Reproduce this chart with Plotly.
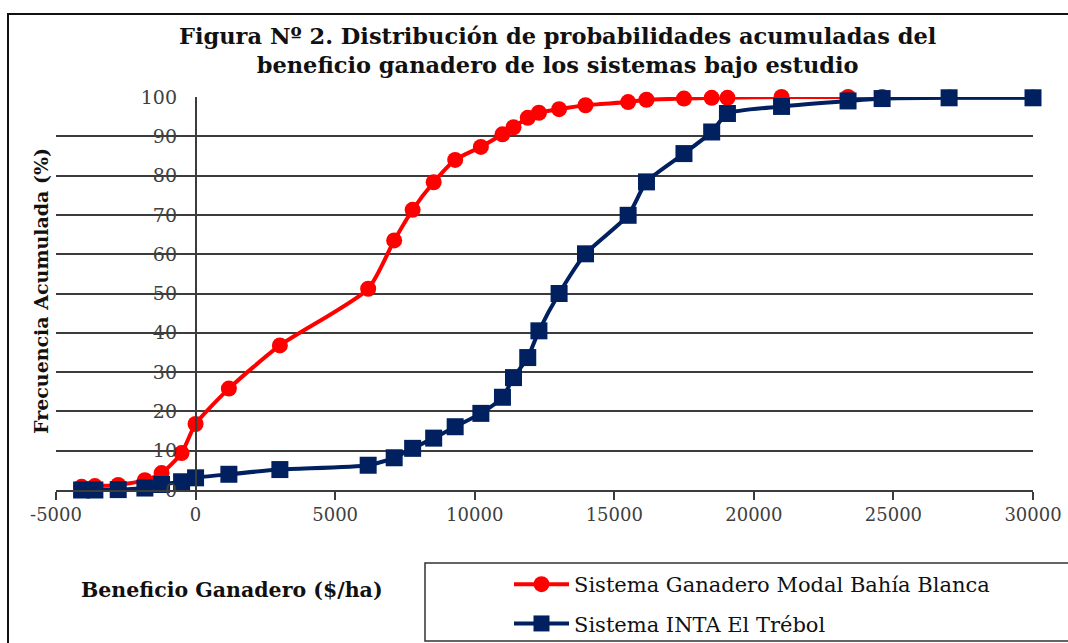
import plotly.graph_objects as go

# Bin upper limits (Beneficio Ganadero, $/ha) shared by both series
beneficio = [-4083, -3607, -2771, -1816, -1218, -501, 0, 1193, 3020, 6183, 7115,
             7776, 8530, 9300, 10220, 10994, 11390, 11900, 12300, 13023, 13969,
             15496, 16153, 17496, 18489, 19054, 20992, 23374, 24595, 26994, 30000]

# Cumulative frequency (%)
modal_bahia_blanca = [0.8, 1.0, 1.3, 2.5, 4.3, 9.4, 16.8, 25.8, 36.8, 51.2, 63.5,
                      71.3, 78.3, 84.0, 87.3, 90.5, 92.3, 94.7, 96.0, 96.9, 97.9,
                      98.7, 99.3, 99.6, 99.8, 99.8, 100.0, 100.0, 100.0, 99.9, 99.9]
inta_el_trebol = [0.0, 0.0, 0.1, 0.5, 1.4, 2.1, 3.1, 4.0, 5.2, 6.3, 8.2,
                  10.6, 13.2, 16.1, 19.5, 23.6, 28.6, 33.7, 40.5, 50.0, 60.1,
                  69.9, 78.4, 85.6, 91.1, 95.8, 97.6, 99.0, 99.6, 99.8, 99.8]

series_names = ["Sistema Ganadero Modal Bahía Blanca", "Sistema INTA El Trébol"]

x_tick_vals = [-5000, 0, 5000, 10000, 15000, 20000, 25000, 30000]
x_tick_text = ["-5000", "0", "5000", "10000", "15000", "20000", "25000", "30000"]
y_tick_vals = [0, 10, 20, 30, 40, 50, 60, 70, 80, 90, 100]
y_tick_text = ["0", "10", "20", "30", "40", "50", "60", "70", "80", "90", "100"]

title_text = ("Figura Nº 2. Distribución de probabilidades acumuladas del<br>"
              "beneficio ganadero de los sistemas bajo estudio")
x_title = "Beneficio Ganadero ($/ha)"
y_title = "Frecuencia Acumulada (%)"

RED = "#FF0000"
NAVY = "#002060"
GRID = "#3c3c3c"
SERIF = "DejaVu Serif, serif"

W, H = 1068, 643
L, R, T, B = 56, 35, 97, 153
PW, PH = W - L - R, H - T - B


def px_x(p):
    return (p - L) / PW


def px_y(p):
    return (H - B - p) / PH


fig = go.Figure()
fig.add_trace(go.Scatter(
    x=beneficio, y=modal_bahia_blanca, name=series_names[0],
    mode="lines+markers", line=dict(color=RED, width=4, shape="spline", smoothing=0.6),
    marker=dict(symbol="circle", size=16, color=RED),
    cliponaxis=False, legendgroup="a"))
fig.add_trace(go.Scatter(
    x=beneficio, y=inta_el_trebol, name=series_names[1],
    mode="lines+markers", line=dict(color=NAVY, width=4, shape="spline", smoothing=0.6),
    marker=dict(symbol="square", size=17, color=NAVY),
    cliponaxis=False, legendgroup="b"))

fig.update_layout(
    width=W, height=H, autosize=False,
    margin=dict(l=L, r=R, t=T, b=B, autoexpand=False),
    paper_bgcolor="white", plot_bgcolor="white",
    font=dict(family=SERIF, color="#222222"),
    xaxis=dict(range=[-5000, 30000], tickvals=x_tick_vals, ticktext=x_tick_text,
               showgrid=False, zeroline=False, showline=True, linecolor=GRID,
               linewidth=1.5, ticks="outside", ticklen=8, tickwidth=1.5,
               tickcolor=GRID, automargin=False,
               tickfont=dict(family=SERIF, size=18, color="#404040")),
    yaxis=dict(range=[0, 100], tickvals=y_tick_vals, ticktext=y_tick_text,
               showgrid=True, gridcolor=GRID, gridwidth=1.5, zeroline=False,
               showline=True, linecolor=GRID, linewidth=1.5, ticks="",
               anchor="free", position=5000 / 35000, ticklabelstandoff=14,
               automargin=False,
               tickfont=dict(family=SERIF, size=19, color="#404040")),
    legend=dict(x=px_x(509), y=px_y(564), xanchor="left", yanchor="top",
                traceorder="grouped", tracegroupgap=9, itemwidth=55,
                bgcolor="rgba(0,0,0,0)", borderwidth=0,
                font=dict(family=SERIF, size=21, color="#111111")),
    showlegend=True,
)

fig.add_annotation(text="<b>" + title_text + "</b>", xref="paper", yref="paper",
                   x=px_x(557), y=px_y(50.5), xanchor="center", yanchor="middle",
                   showarrow=False,
                   font=dict(family=SERIF, size=22.5, color="#111111"))
fig.add_annotation(text="<b>" + y_title + "</b>", xref="paper", yref="paper",
                   x=px_x(41), y=px_y(291), xanchor="center", yanchor="middle",
                   textangle=-90, showarrow=False,
                   font=dict(family=SERIF, size=19, color="#111111"))
fig.add_annotation(text="<b>" + x_title + "</b>", xref="paper", yref="paper",
                   x=px_x(232), y=px_y(590), xanchor="center", yanchor="middle",
                   showarrow=False,
                   font=dict(family=SERIF, size=20.5, color="#111111"))

# Outer chart frame and legend box
fig.add_shape(type="rect", xref="paper", yref="paper",
              x0=px_x(8), x1=px_x(1100), y0=px_y(700), y1=px_y(14),
              line=dict(color="#111111", width=2), layer="below")
fig.add_shape(type="rect", xref="paper", yref="paper",
              x0=px_x(425), x1=px_x(1100), y0=px_y(641), y1=px_y(563),
              line=dict(color="#333333", width=1.5), layer="below")

fig.write_html("out.html", config={"displayModeBar": False},
               post_script="document.body.style.margin='0';")
